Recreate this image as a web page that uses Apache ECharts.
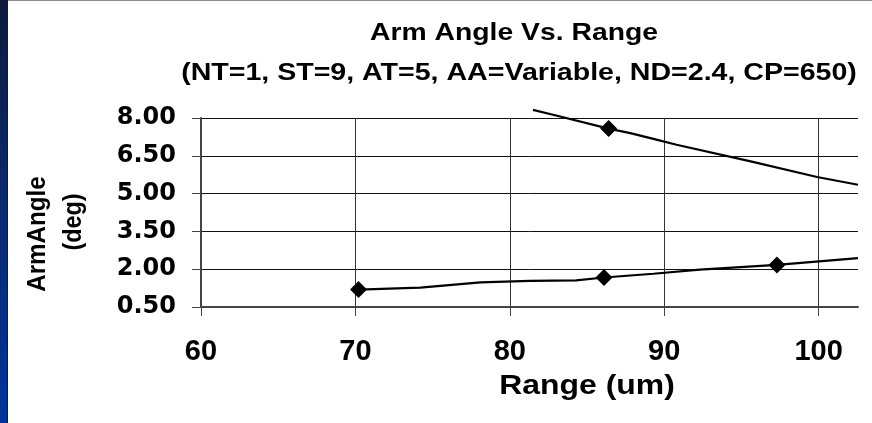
<!DOCTYPE html>
<html>
<head>
<meta charset="utf-8">
<script src="https://cdn.jsdelivr.net/npm/echarts@6/dist/echarts.min.js"></script>
<style>
  html, body { margin: 0; padding: 0; background: #ffffff; }
  #chart { width: 872px; height: 423px; }
</style>
</head>
<body>
<div id="chart"></div>
<script>
// Axis ticks
const rangeTicks = [60, 70, 80, 90, 100];
const angleTicks = [0.5, 2.0, 3.5, 5.0, 6.5, 8.0];

// Lower branch: range (um) vs arm angle (deg); 1 = measured point drawn with a marker
const lowerRange  = [70.2, 74.2, 78.1, 81.3, 84.3, 86.1, 89.3, 92.3, 97.3, 102.55];
const lowerAngle  = [1.19, 1.27, 1.48, 1.54, 1.56, 1.67, 1.82, 1.98, 2.17, 2.44];
const lowerMarked = [1, 0, 0, 0, 0, 1, 0, 0, 1, 0];

// Upper branch
const upperRange  = [81.5, 82.8, 86.4, 87.8, 89.3, 90.8, 95.6, 99.9, 102.55];
const upperAngle  = [8.32, 8.13, 7.58, 7.40, 7.17, 6.94, 6.28, 5.66, 5.35];
const upperMarked = [0, 0, 1, 0, 0, 0, 0, 0, 0];

const titleLine1 = 'Arm Angle Vs. Range';
const titleLine2 = '(NT=1, ST=9, AT=5, AA=Variable, ND=2.4, CP=650)';
const xName = 'Range (um)';
const yName1 = 'ArmAngle';
const yName2 = '(deg)';

function branch(xs, ys, marks) {
  return xs.map((x, i) => ({
    value: [x, ys[i]],
    symbol: marks[i] ? 'diamond' : 'none'
  }));
}

const chart = echarts.init(document.getElementById('chart'), null, { renderer: 'canvas' });

const lineSeries = (data) => ({
  type: 'line',
  data: data,
  clip: false,
  symbolSize: 17,
  showAllSymbol: true,
  itemStyle: { color: '#000000' },
  lineStyle: { color: '#000000', width: 2.2 },
  emphasis: { disabled: true },
  silent: true,
  animation: false,
  z: 5
});

chart.setOption({
  animation: false,
  backgroundColor: '#ffffff',
  grid: { left: 201, top: 118, right: 14, bottom: 116, containLabel: false },
  xAxis: {
    type: 'value',
    min: 60,
    max: 102.55,
    axisLine: { show: true, onZero: false, lineStyle: { color: '#444444', width: 2 } },
    axisTick: { show: true, length: 9, customValues: rangeTicks, lineStyle: { color: '#444444', width: 1 } },
    axisLabel: {
      customValues: rangeTicks,
      margin: 30,
      color: '#000000',
      fontFamily: 'Liberation Sans',
      fontWeight: 'bold',
      fontSize: 29
    },
    splitLine: { show: true, lineStyle: { color: '#333333', width: 1 } }
  },
  yAxis: {
    type: 'value',
    min: 0.5,
    max: 8,
    axisLine: { show: true, onZero: false, lineStyle: { color: '#444444', width: 2 } },
    axisTick: { show: true, length: 9, customValues: angleTicks, lineStyle: { color: '#444444', width: 1 } },
    axisLabel: {
      customValues: angleTicks,
      margin: 25,
      color: '#000000',
      fontFamily: 'DejaVu Sans',
      fontWeight: 'bold',
      fontSize: 24,
      formatter: (v) => v.toFixed(2)
    },
    splitLine: { show: true, lineStyle: { color: '#111111', width: 1 } }
  },
  graphic: [
    // left edge band
    {
      type: 'rect', left: 0, top: 0, z: 0,
      shape: { width: 7, height: 423 },
      style: {
        fill: new echarts.graphic.LinearGradient(0, 0, 0, 1, [
          { offset: 0, color: '#0d1a3c' },
          { offset: 0.5, color: '#0a2a72' },
          { offset: 1, color: '#00349c' }
        ])
      }
    },
    { type: 'rect', left: 7, top: 0, z: 0, shape: { width: 1, height: 423 }, style: { fill: '#1a1a1a' } },
    { type: 'rect', left: 8, top: 0, z: 0, shape: { width: 864, height: 1 }, style: { fill: '#8c8c8c' } },
    // titles
    {
      type: 'text', x: 514, y: 33, scaleX: 1.18, z: 10,
      style: { text: titleLine1, font: 'bold 24px "Liberation Sans"', fill: '#000000', align: 'center', verticalAlign: 'middle' }
    },
    {
      type: 'text', x: 519, y: 73, scaleX: 1.19, z: 10,
      style: { text: titleLine2, font: 'bold 24px "Liberation Sans"', fill: '#000000', align: 'center', verticalAlign: 'middle' }
    },
    {
      type: 'text', x: 587, y: 386, scaleX: 1.14, z: 10,
      style: { text: xName, font: 'bold 28px "Liberation Sans"', fill: '#000000', align: 'center', verticalAlign: 'middle' }
    },
    {
      type: 'text', x: 38, y: 234, rotation: Math.PI / 2, scaleX: 0.93, z: 10,
      style: { text: yName1, font: 'bold 26px "Liberation Sans"', fill: '#000000', align: 'center', verticalAlign: 'middle' }
    },
    {
      type: 'text', x: 74, y: 222, rotation: Math.PI / 2, scaleX: 0.9, z: 10,
      style: { text: yName2, font: 'bold 26px "Liberation Sans"', fill: '#000000', align: 'center', verticalAlign: 'middle' }
    }
  ],
  series: [
    lineSeries(branch(lowerRange, lowerAngle, lowerMarked)),
    lineSeries(branch(upperRange, upperAngle, upperMarked))
  ]
});
</script>
</body>
</html>
